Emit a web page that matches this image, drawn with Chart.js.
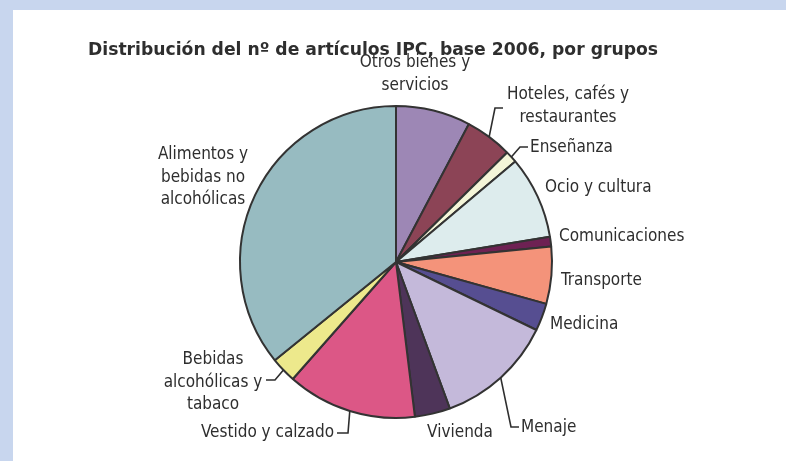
<!DOCTYPE html>
<html>
<head>
<meta charset="utf-8">
<script src="https://cdn.jsdelivr.net/npm/chart.js"></script>
<style>
  html, body { margin: 0; padding: 0; }
  body { width: 786px; height: 461px; background: #c8d6ee; position: relative; overflow: hidden; }
  #caja { position: absolute; left: 13px; top: 10px; width: 773px; height: 451px; background: #fff; }
</style>
</head>
<body>
<div id="caja"><canvas id="grafico" width="773" height="451"></canvas></div>
<script>
const titulo = 'Distribución del nº de artículos IPC, base 2006, por grupos';

// grupos en el orden del gráfico, empezando arriba y en sentido horario
const grupos = [
  'Otros bienes y servicios', 'Hoteles, cafés y restaurantes', 'Enseñanza', 'Ocio y cultura',
  'Comunicaciones', 'Transporte', 'Medicina', 'Menaje', 'Vivienda', 'Vestido y calzado',
  'Bebidas alcohólicas y tabaco', 'Alimentos y bebidas no alcohólicas'
];
// nº de artículos (estimado del gráfico)
const articulos = [38, 24, 6, 42, 5, 29, 14, 60, 18, 66, 13, 176];

const colores = [
  '#9d87b5', '#8c4456', '#f4f5d8', '#ddeced', '#6e2153', '#f4937a',
  '#564e91', '#c4b9da', '#4e3459', '#dc5786', '#ede98c', '#97bbc1'
];

// posición de los rótulos respecto al centro de la tarta
const rotulosPos = [
  { lineas: ['Otros bienes y', 'servicios'], dx: 19, dy: -199, align: 'center' },
  { lineas: ['Hoteles, cafés y', 'restaurantes'], dx: 172, dy: -167, align: 'center', codo: [99, -154], fin: [107, -154] },
  { lineas: ['Enseñanza'], dx: 134, dy: -114, align: 'left', codo: [124, -115], fin: [132, -115] },
  { lineas: ['Ocio y cultura'], dx: 149, dy: -74, align: 'left' },
  { lineas: ['Comunicaciones'], dx: 163, dy: -25, align: 'left' },
  { lineas: ['Transporte'], dx: 165, dy: 19, align: 'left' },
  { lineas: ['Medicina'], dx: 154, dy: 63, align: 'left' },
  { lineas: ['Menaje'], dx: 125, dy: 166, align: 'left', codo: [115, 165], fin: [123, 165] },
  { lineas: ['Vivienda'], dx: 64, dy: 171, align: 'center' },
  { lineas: ['Vestido y calzado'], dx: -62, dy: 171, align: 'right', codo: [-48, 171], fin: [-59, 171] },
  { lineas: ['Bebidas', 'alcohólicas y', 'tabaco'], dx: -183, dy: 98, align: 'center', codo: [-121, 118], fin: [-130, 118] },
  { lineas: ['Alimentos y', 'bebidas no', 'alcohólicas'], dx: -193, dy: -107, align: 'center' }
];

const rotulos = {
  id: 'rotulos',
  afterDatasetsDraw(chart) {
    const ctx = chart.ctx;
    const arcos = chart.getDatasetMeta(0).data;
    const cx = arcos[0].x, cy = arcos[0].y;
    ctx.save();

    // titulo
    ctx.fillStyle = '#2e2e2e';
    ctx.font = 'bold 17.2px "DejaVu Sans"';
    ctx.textAlign = 'left';
    ctx.textBaseline = 'alphabetic';
    ctx.fillText(titulo, cx - 308, cy - 207);

    // lineas guia
    ctx.strokeStyle = '#2e2e2e';
    ctx.lineWidth = 1.6;
    rotulosPos.forEach((r, i) => {
      if (!r.codo) return;
      const a = arcos[i];
      const medio = (a.startAngle + a.endAngle) / 2;
      ctx.beginPath();
      ctx.moveTo(cx + Math.cos(medio) * a.outerRadius, cy + Math.sin(medio) * a.outerRadius);
      ctx.lineTo(cx + r.codo[0], cy + r.codo[1]);
      ctx.lineTo(cx + r.fin[0], cy + r.fin[1]);
      ctx.stroke();
    });

    // textos
    ctx.font = '17px "DejaVu Sans Condensed", "DejaVu Sans"';
    ctx.textBaseline = 'middle';
    rotulosPos.forEach(r => {
      ctx.textAlign = r.align;
      r.lineas.forEach((t, k) => {
        ctx.fillText(t, cx + r.dx, cy + r.dy + k * 22.5);
      });
    });
    ctx.restore();
  }
};

new Chart(document.getElementById('grafico'), {
  type: 'pie',
  data: {
    labels: grupos,
    datasets: [{
      data: articulos,
      backgroundColor: colores,
      borderColor: '#333',
      borderWidth: 2
    }]
  },
  options: {
    responsive: false,
    animation: false,
    layout: { padding: { top: 95, bottom: 42, left: 200, right: 207 } },
    plugins: {
      legend: { display: false },
      tooltip: { enabled: false }
    }
  },
  plugins: [rotulos]
});
</script>
</body>
</html>
